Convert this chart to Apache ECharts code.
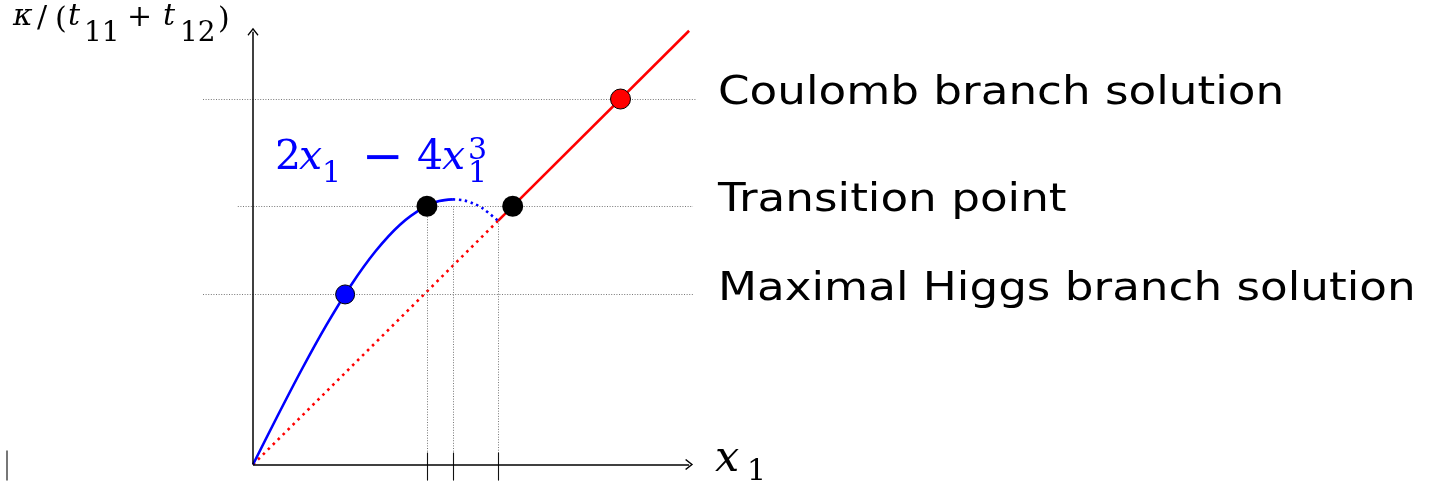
<!DOCTYPE html>
<html>
<head>
<meta charset="utf-8">
<script src="https://cdn.jsdelivr.net/npm/echarts@6/dist/echarts.min.js"></script>
<style>
  html, body { margin: 0; padding: 0; background: #fff; }
  #chart { width: 1431px; height: 484px; }
</style>
</head>
<body>
<div id="chart"></div>
<script>
// Higgs branch 2x1 - 4x1^3: solid up to its maximum, dotted beyond it
const higgsSolid = [[0, 0], [0.05, 0.0995], [0.1, 0.196], [0.15, 0.2865], [0.2, 0.368],
                    [0.25, 0.4375], [0.3, 0.492], [0.35, 0.5285], [0.38, 0.5405], [0.408, 0.544]];
const higgsDotted = [[0.408, 0.544], [0.43, 0.542], [0.45, 0.5355], [0.47, 0.5247], [0.5, 0.5]];
// Coulomb branch kappa = x1: dotted below the crossing, solid above it
const coulombDotted = [[0, 0], [0.5, 0.5]];
const coulombSolid = [[0.5, 0.5], [0.89, 0.89]];

// marked solutions
const higgsPoint = [[0.188, 0.349]];
const transitionPoints = [[0.355, 0.53], [0.53, 0.53]];
const coulombPoint = [[0.75, 0.75]];

// horizontal reference levels: [level, from x, to x]
const levelGuides = [[0.75, -0.102, 0.904], [0.53, -0.031, 0.898], [0.349, -0.102, 0.898]];
const levelLabels = ['Coulomb branch solution', 'Transition point', 'Maximal Higgs branch solution'];
// vertical drop lines: [x, from level]
const dropGuides = [[0.355, 0.53], [0.408, 0.53], [0.5, 0.5]];
const tickXs = [0.355, 0.408, 0.5];
const strayTickX = -0.502;
const axisEnds = { x: 0.89, y: 0.888 };

const chart = echarts.init(document.getElementById('chart'), null, { renderer: 'canvas' });

const arrowHead = 'path://M6,0 L12,7 L11,8 L6,2.2 L1,8 L0,7 Z';
// a markLine segment between two data points, with its own line style
const seg = (a, b, style) => [{ coord: a, lineStyle: style }, { coord: b }];
const guideStyle = { color: '#777', width: 1, type: [1, 1.6] };
const tickStyle = { color: '#111', width: 1.1, type: 'solid' };

const option = {
  animation: false,
  backgroundColor: '#ffffff',
  grid: { left: 3.1, width: 739.9, top: 11.3, height: 475.3 },
  xAxis: { type: 'value', min: -0.51, max: 1.0, show: false },
  yAxis: { type: 'value', min: -0.04, max: 0.93, show: false },
  series: [
    {
      // guide lines and ticks
      type: 'line', data: [], z: 1,
      markLine: {
        silent: true, symbol: 'none', label: { show: false }, animation: false,
        lineStyle: guideStyle,
        data: [
          ...levelGuides.map(g => seg([g[1], g[0]], [g[2], g[0]], guideStyle)),
          ...dropGuides.map(g => seg([g[0], g[1]], [g[0], 0], guideStyle)),
          ...tickXs.map(x => seg([x, 0.0245], [x, -0.033], tickStyle)),
          seg([strayTickX, 0.0286], [strayTickX, -0.033], { color: '#777', width: 2, type: 'solid' })
        ]
      }
    },
    {
      // axes with arrow heads
      type: 'line', data: [], z: 2,
      markLine: {
        silent: true, label: { show: false }, animation: false,
        symbol: ['none', arrowHead], symbolSize: [11, 8],
        lineStyle: { color: '#000', width: 1.5, type: 'solid' },
        itemStyle: { color: '#000' },
        data: [seg([0, 0], [axisEnds.x, 0]), seg([0, 0], [0, axisEnds.y])]
      }
    },
    {
      type: 'line', data: coulombDotted, z: 3, showSymbol: false, silent: true,
      lineStyle: { color: '#ff0000', width: 2.6, type: [2.6, 4.4] }
    },
    {
      type: 'line', data: coulombSolid, z: 3, showSymbol: false, silent: true,
      lineStyle: { color: '#ff0000', width: 2.6 }
    },
    {
      type: 'line', data: higgsSolid, z: 4, smooth: 0.3, showSymbol: false, silent: true,
      lineStyle: { color: '#0000ff', width: 2.6 }
    },
    {
      type: 'line', data: higgsDotted, z: 4, smooth: 0.3, showSymbol: false, silent: true,
      lineStyle: { color: '#0000ff', width: 2.6, type: [2.4, 3.6] }
    },
    {
      type: 'scatter', data: higgsPoint, z: 6, symbolSize: 19,
      itemStyle: { color: '#0000ff', borderColor: '#000', borderWidth: 1, opacity: 1 }
    },
    {
      type: 'scatter', data: transitionPoints, z: 6, symbolSize: 21,
      itemStyle: { color: '#000', opacity: 1 }
    },
    {
      type: 'scatter', data: coulombPoint, z: 6, symbolSize: 20,
      itemStyle: { color: '#ff0000', borderColor: '#000', borderWidth: 1, opacity: 1 }
    }
  ]
};
chart.setOption(option);

// ---- text ----
const MATH = '"DejaVu Serif", "Liberation Serif", serif';
// one glyph run placed by its baseline
function mathPiece(t, x, base, size, italic, color) {
  return {
    type: 'text', x: x, y: base - 0.346 * size, silent: true, z: 10,
    style: {
      text: t, fill: color || '#000',
      font: (italic ? 'italic ' : '') + size + 'px ' + MATH,
      align: 'left', verticalAlign: 'middle'
    }
  };
}

const graphics = [];
// y-axis quantity
graphics.push(
  mathPiece('κ', 13, 28, 30, true),
  mathPiece('/', 37, 30, 30, false),
  mathPiece('(', 55, 31, 30, false),
  mathPiece('t', 68, 28, 30, true),
  mathPiece('11', 84, 43, 28, false),
  mathPiece('+', 127, 29, 30, false),
  mathPiece('t', 163, 28, 30, true),
  mathPiece('12', 180, 43, 28, false),
  mathPiece(')', 218, 31, 30, false)
);
// x-axis quantity
graphics.push(
  mathPiece('x', 715, 475, 43, true),
  mathPiece('1', 747, 483, 30, false)
);
// curve formula
const BLUE = '#0000ff';
graphics.push(
  mathPiece('2', 275, 173, 41, false, BLUE),
  mathPiece('x', 299, 173, 41, true, BLUE),
  mathPiece('1', 322, 185, 30, false, BLUE),
  mathPiece('\u2212', 362, 177, 50, false, BLUE),
  mathPiece('4', 417, 173, 41, false, BLUE),
  mathPiece('x', 442, 173, 41, true, BLUE),
  mathPiece('1', 468, 185, 30, false, BLUE),
  mathPiece('3', 468, 162, 30, false, BLUE)
);
// level labels, placed on their levels through the axis scales
const labelX = 0.949;
levelGuides.forEach((g, i) => {
  const p = chart.convertToPixel({ gridIndex: 0 }, [labelX, g[0]]);
  graphics.push({
    type: 'text', x: p[0], y: p[1] - 5, scaleX: 1.16, silent: true, z: 10,
    style: {
      text: levelLabels[i], fill: '#000',
      font: '39px "DejaVu Sans", sans-serif',
      align: 'left', verticalAlign: 'middle'
    }
  });
});
chart.setOption({ graphic: graphics });
</script>
</body>
</html>
